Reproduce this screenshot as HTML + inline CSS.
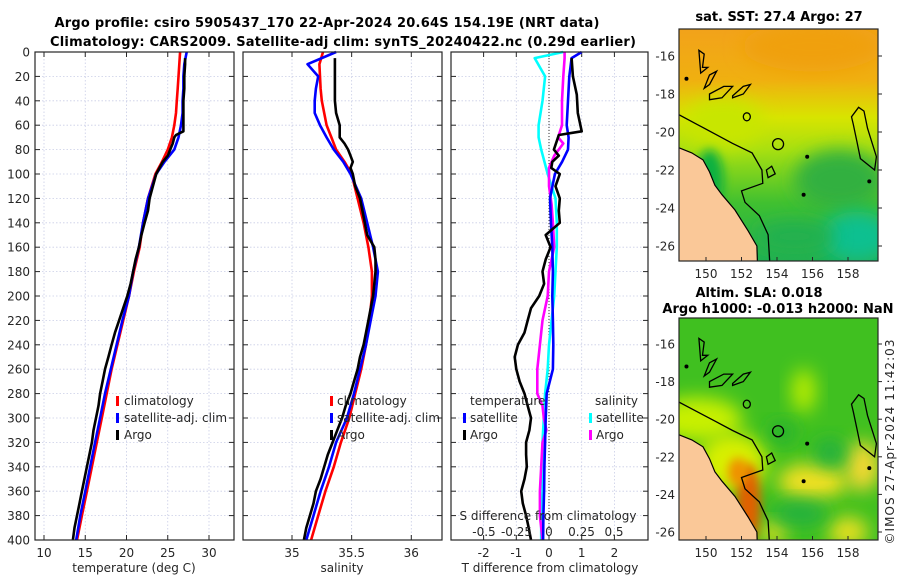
<!DOCTYPE html>
<html><head><meta charset="utf-8"><title>Argo profile</title>
<style>
html,body{margin:0;padding:0;background:#fff;}
svg{display:block;font-family:"DejaVu Sans","Liberation Sans",sans-serif;}
.t{font-size:12px;fill:#262626;}
.b{font-weight:bold;font-size:13px;fill:#000;}
</style></head>
<body>
<svg id="fig" width="900" height="580" viewBox="0 0 900 580" xmlns="http://www.w3.org/2000/svg">
<defs>
<filter id="bl" x="-50%" y="-50%" width="200%" height="200%"><feGaussianBlur stdDeviation="9"/></filter>
<filter id="bl2" x="-50%" y="-50%" width="200%" height="200%"><feGaussianBlur stdDeviation="5"/></filter>
<linearGradient id="sstg" x1="0" y1="0" x2="0" y2="1">
<stop offset="0" stop-color="#f2a21a"/><stop offset="0.22" stop-color="#f0b010"/><stop offset="0.38" stop-color="#d8e400"/><stop offset="0.52" stop-color="#a8e010"/><stop offset="0.75" stop-color="#40c030"/><stop offset="1" stop-color="#20b050"/>
</linearGradient>
<clipPath id="cm1"><rect x="679" y="29" width="199" height="232"/></clipPath>
<clipPath id="cm2"><rect x="679" y="318" width="199" height="222"/></clipPath>
</defs>
<text class="b" x="327" y="27" text-anchor="middle" textLength="545">Argo profile: csiro 5905437_170 22-Apr-2024 20.64S 154.19E (NRT data)</text>
<text class="b" x="343" y="46" text-anchor="middle" textLength="586">Climatology: CARS2009. Satellite-adj clim: synTS_20240422.nc (0.29d earlier)</text>
<g id="panels"></g>
<g id="maps"></g>
<text class="t" transform="translate(894,442) rotate(-90)" text-anchor="middle" textLength="205">©IMOS 27-Apr-2024 11:42:03</text>
</svg>
<script>
// ---- data ----
const depthGrid = [0,10,20,30,40,50,60,70,80,90,100,120,140,160,180,200,220,240,260,280,300,320,340,360,380,400];
const tempClim = [26.5,26.4,26.3,26.2,26.1,26.0,25.8,25.5,25.0,24.3,23.5,22.6,22.0,21.6,20.9,20.3,19.6,18.9,18.2,17.6,17.0,16.4,15.8,15.2,14.6,14.0];
const tempSat  = [27.3,27.0,26.9,26.9,26.8,26.8,26.6,26.3,25.8,24.6,23.6,22.6,22.0,21.5,20.8,20.3,19.5,18.8,18.1,17.4,16.8,16.2,15.6,15.0,14.4,13.9];
const argoDepth = [5,10,20,30,40,50,60,65,68,70,75,80,85,90,95,100,110,120,130,140,150,160,170,180,190,200,210,220,230,240,250,260,270,280,290,300,310,320,330,340,350,360,370,380,390,400];
const tempArgo = [27.1,27.1,27.0,27.0,26.9,26.9,26.9,26.9,26.0,25.8,25.6,25.3,25.0,24.4,24.0,23.6,23.2,22.8,22.6,22.2,21.8,21.5,21.1,20.8,20.5,20.1,19.6,19.1,18.6,18.2,17.8,17.4,17.1,16.8,16.6,16.3,16.0,15.8,15.5,15.2,14.9,14.6,14.3,14.0,13.7,13.5];
const salClim = [35.26,35.23,35.235,35.24,35.25,35.27,35.29,35.33,35.37,35.44,35.50,35.55,35.60,35.64,35.67,35.67,35.65,35.62,35.58,35.53,35.48,35.41,35.35,35.28,35.22,35.16];
const salSat  = [35.37,35.13,35.22,35.20,35.19,35.19,35.235,35.29,35.35,35.43,35.49,35.58,35.63,35.68,35.72,35.70,35.66,35.62,35.57,35.52,35.46,35.37,35.31,35.24,35.18,35.12];
const salArgo = [35.36,35.36,35.36,35.36,35.36,35.37,35.40,35.40,35.40,35.40,35.44,35.47,35.49,35.51,35.49,35.51,35.53,35.57,35.59,35.61,35.63,35.69,35.70,35.70,35.69,35.68,35.66,35.64,35.62,35.60,35.57,35.55,35.52,35.49,35.45,35.42,35.38,35.34,35.30,35.27,35.24,35.20,35.18,35.15,35.12,35.10];
const dTDepth = [0,5,20,40,60,70,80,90,100,120,140,160,180,200,220,240,260,280,300,320,340,360,380,400];
const dTSat = [1.0,0.69,0.62,0.58,0.54,0.6,0.58,0.4,0.18,0.03,0.06,0.1,0.12,0.1,0.12,0.13,0.12,-0.07,-0.1,-0.12,-0.14,-0.15,-0.17,-0.18];
const dTArgoDepth = [5,20,35,50,65,68,72,80,85,90,95,100,110,120,130,140,150,160,170,180,190,200,210,220,230,240,250,260,270,280,290,300,310,320,330,340,350,360,370,380,390,400];
const dTArgo = [0.69,0.73,0.85,0.88,1.0,0.3,0.25,0.15,0.3,0.1,0.07,0.33,0.2,0.33,0.3,0.33,-0.1,0.05,-0.1,-0.2,-0.15,-0.3,-0.55,-0.65,-0.75,-0.95,-1.05,-1.0,-0.9,-0.75,-0.65,-0.55,-0.6,-0.7,-0.7,-0.68,-0.75,-0.85,-0.8,-0.7,-0.62,-0.55];
const dSDepth = [0,5,20,40,60,70,80,100,120,140,160,180,200,220,240,260,280,300,320,340,360,380,400];
const dSSat = [0.11,-0.11,-0.03,-0.05,-0.08,-0.08,-0.06,-0.01,0.05,0.06,0.06,0.05,0.04,0.02,0.0,-0.01,-0.03,-0.04,-0.05,-0.05,-0.05,-0.06,-0.06];
const dSArgoDepth = [0,5,20,40,60,70,75,85,95,110,125,140,160,180,200,220,240,260,280,290,300,310,320,340,360,380,400];
const dSArgo = [0.12,0.12,0.11,0.1,0.1,0.07,0.11,0.04,0.0,0.0,0.02,0.03,0.04,0.0,-0.01,-0.05,-0.07,-0.09,-0.09,-0.05,-0.04,-0.02,-0.05,-0.06,-0.07,-0.07,-0.05];
const depthTicks = [0,20,40,60,80,100,120,140,160,180,200,220,240,260,280,300,320,340,360,380,400];
const tempTicks = [10,15,20,25,30];
const salTicks = [35,35.5,36];
const dTTicks = [-2,-1,0,1,2];
const dSTicks = [-0.5,-0.25,0,0.25,0.5];
const dSTickLabels = ["-0.5","-0.25","0","0.25","0.5"];

const NS='http://www.w3.org/2000/svg';
const panels=document.getElementById('panels');
const Y0=52, Y1=540;
function yD(d){return Y0+(d/400)*(Y1-Y0);}
function mk(tag,attrs,parent){const e=document.createElementNS(NS,tag);for(const k in attrs)e.setAttribute(k,attrs[k]);(parent||panels).appendChild(e);return e;}

function frame(x0,x1,xs,xticks,xlabels,showY,name){
  const g=mk('g',{});
  
  
  depthTicks.forEach(d=>{
    const l=mk('line',{x1:x0,x2:x1,y1:yD(d),y2:yD(d),stroke:'#c9cde6','stroke-width':0.8,'stroke-dasharray':'1.5,2'},g);
    
    
    mk('line',{x1:x0,x2:x0+5,y1:yD(d),y2:yD(d),stroke:'#262626','stroke-width':1},g);
    mk('line',{x1:x1-5,x2:x1,y1:yD(d),y2:yD(d),stroke:'#262626','stroke-width':1},g);
    if(showY){
      const t=mk('text',{x:x0-5,y:yD(d)+4.5,'text-anchor':'end','class':'t'},g);
      t.textContent=d;
      
      
    }
  });
  xticks.forEach((v,i)=>{
    const x=xs(v);
    const l=mk('line',{x1:x,x2:x,y1:Y0,y2:Y1,stroke:'#c9cde6','stroke-width':0.8,'stroke-dasharray':'1.5,2'},g);
    
    
    mk('line',{x1:x,x2:x,y1:Y1-5,y2:Y1,stroke:'#262626','stroke-width':1},g);
    mk('line',{x1:x,x2:x,y1:Y0,y2:Y0+5,stroke:'#262626','stroke-width':1},g);
    const t=mk('text',{x:x,y:557,'text-anchor':'middle','class':'t'},g);
    t.textContent=xlabels?xlabels[i]:v;
    
    
  });
  return g;
}
function series(xs,vals,depths,color,name,w){
  let d='';
  vals.forEach((v,i)=>{d+=(i?'L':'M')+xs(v).toFixed(1)+','+yD(depths[i]).toFixed(1);});
  const p=mk('path',{d:d,fill:'none',stroke:color,'stroke-width':w||2.6,'stroke-linejoin':'round'});
  
  
  return p;
}
function box(x0,x1,name){
  const r=mk('rect',{x:x0,y:Y0,width:x1-x0,height:Y1-Y0,fill:'none',stroke:'#262626','stroke-width':1.2});
  
  
}
function label(x,y,txt,name,anchor,size){
  const t=mk('text',{x:x,y:y,'text-anchor':anchor||'start','class':'t'});
  if(size)t.setAttribute('style','font-size:'+size+'px');
  t.textContent=txt;
  
  
  return t;
}
function legendMark(x,y,color){
  const r=mk('rect',{x:x,y:y-10,width:3,height:10,fill:color});
  
  
}

// Panel 1 temperature
const xT=v=>44+(v-10)*8.25;
frame(35,234,xT,tempTicks,null,true,'temperature-axes');
series(xT,tempClim,depthGrid,'#ff0000','temperature-climatology-line');
series(xT,tempSat,depthGrid,'#0000ff','temperature-satellite-line');
series(xT,tempArgo,argoDepth,'#000000','temperature-argo-line');
box(35,234,'temperature-plot-frame');
label(134,572,'temperature (deg C)','temperature-axis-title','middle');
legendMark(116,406,'#ff0000');label(124,405,'climatology','legend-entry-climatology');
legendMark(116,423,'#0000ff');label(124,422,'satellite-adj. clim','legend-entry-satellite');
legendMark(116,440,'#000000');label(124,439,'Argo','legend-entry-argo');

// Panel 2 salinity
const xS=v=>292+(v-35)*119.3;
frame(243,442,xS,salTicks,null,false,'salinity-axes');
series(xS,salClim,depthGrid,'#ff0000','salinity-climatology-line');
series(xS,salSat,depthGrid,'#0000ff','salinity-satellite-line');
series(xS,salArgo,argoDepth,'#000000','salinity-argo-line');
box(243,442,'salinity-plot-frame');
label(342,572,'salinity','salinity-axis-title','middle');
legendMark(330,406,'#ff0000');label(337,405,'climatology','legend-entry-climatology');
legendMark(330,423,'#0000ff');label(337,422,'satellite-adj. clim','legend-entry-satellite');
legendMark(330,440,'#000000');label(337,439,'Argo','legend-entry-argo');

// Panel 3 differences
const xdT=v=>549+v*32.7;
const xdS=v=>549+v*130;
frame(451,648,xdT,dTTicks,null,false,'difference-axes');
const zl=mk('line',{x1:549,x2:549,y1:Y0,y2:Y1,stroke:'#333','stroke-width':1,'stroke-dasharray':'1,2'});


series(xdS,dSSat,dSDepth,'#00ffff','salinity-diff-satellite-line');
series(xdS,dSArgo,dSArgoDepth,'#ff00ff','salinity-diff-argo-line');
series(xdT,dTSat,dTDepth,'#0000ff','temperature-diff-satellite-line');
series(xdT,dTArgo,dTArgoDepth,'#000000','temperature-diff-argo-line');
box(451,648,'difference-plot-frame');
label(550,572,'T difference from climatology','t-difference-axis-title','middle');
label(548,520,'S difference from climatology','s-difference-axis-title','middle');
dSTicks.forEach((v,i)=>{const t=label(xdS(v),536,dSTickLabels[i],'s-diff-tick-label','middle');});
label(470,405,'temperature','legend-title-temperature');
legendMark(463,423,'#0000ff');label(470,422,'satellite','legend-entry-t-satellite');
legendMark(463,440,'#000000');label(470,439,'Argo','legend-entry-t-argo');
label(595,405,'salinity','legend-title-salinity');
legendMark(589,423,'#00ffff');label(596,422,'satellite','legend-entry-s-satellite');
legendMark(589,440,'#ff00ff');label(596,439,'Argo','legend-entry-s-argo');

// ---- maps ----
const maps=document.getElementById('maps');
const lonTicks=[150,152,154,156,158];
const latTicks=[-16,-18,-20,-22,-24,-26];
const lonX=l=>706+(l-150)*17.75;
function drawMap(top,bottom,lat16y,dpy,kind){
  const latY=l=>lat16y+(-16-l)*dpy;
  const g=mk('g',{'clip-path':'url(#cm'+kind+')'},maps);
  
  
  const P=pts=>pts.map((p,i)=>(i?'L':'M')+lonX(p[0]).toFixed(1)+','+latY(p[1]).toFixed(1)).join('')+'Z';
  const blob=(cx,cy,rx,ry,col,f)=>mk('ellipse',{cx:lonX(cx),cy:latY(cy),rx:rx,ry:ry,fill:col,filter:'url(#'+(f||'bl')+')'},g);
  if(kind==1){
    mk('rect',{x:679,y:top,width:199,height:bottom-top,fill:'url(#sstg)'},g);
    blob(156,-15.5,70,25,'#f0a010');
    blob(151,-19.5,40,25,'#c8e600');
    blob(157.5,-22.5,45,30,'#30b040');
    blob(158.5,-25.5,35,25,'#10c090');
    blob(155,-25.5,40,15,'#20b050');
    blob(150.2,-22.5,14,30,'#10b040','bl2');
  } else {
    mk('rect',{x:679,y:top,width:199,height:bottom-top,fill:'#40c020'},g);
    blob(149.5,-20,45,22,'#c8f000');
    blob(151.5,-22.3,35,30,'#d8f000');
    blob(155.5,-18.5,12,22,'#b8ec00');
    blob(156,-23.3,35,18,'#f0e020');
    blob(158.8,-22.5,18,25,'#f0d830');
    blob(158,-26,20,15,'#e8e020');
    blob(153.8,-26,14,10,'#f0e020');
    blob(154.3,-20.7,14,10,'#20b030');
    blob(157,-21.8,16,14,'#20b040');
    blob(155.3,-25,28,12,'#20b040');
    blob(152.4,-24.5,12,40,'#e06000','bl2');
    blob(151.8,-22.8,10,14,'#f09000','bl2');
  }
  const land=mk('path',{d:P([[148.3,-20.8],[148.5,-20.84],[149.2,-21.1],[149.83,-21.47],[150.2,-22.1],[150.5,-22.8],[150.9,-23.3],[151.63,-24.1],[152.37,-25.2],[152.87,-26.0],[152.9,-27],[148.3,-27]]),fill:'#fac898',stroke:'#000','stroke-width':1.2},g);
  
  
  const shelf=mk('path',{d:'M'+[[148.3,-19.0],[149.5,-19.6],[150.5,-20.1],[151.5,-20.6],[152.6,-21.1],[153.15,-22.0],[153.2,-22.7],[152.0,-23.1],[152.2,-23.7],[153.0,-24.4],[153.5,-25.4],[153.6,-27]].map(p=>lonX(p[0]).toFixed(1)+','+latY(p[1]).toFixed(1)).join('L'),fill:'none',stroke:'#000','stroke-width':1.3},g);
  
  
  const reef=mk('path',{d:P([[158.6,-18.7],[158.9,-18.9],[159.1,-19.8],[159.6,-21.3],[159.5,-22.0],[158.7,-21.4],[158.5,-20.5],[158.3,-19.6],[158.2,-19.2]]),fill:'none',stroke:'#000','stroke-width':1.3},g);
  
  
  [[[149.6,-15.7],[149.9,-15.9],[149.8,-16.6],[150.1,-16.6],[149.7,-16.9]],
   [[150.2,-17.0],[150.6,-16.8],[150.2,-17.5],[149.9,-17.7]],
   [[150.2,-18.0],[151.0,-17.6],[151.5,-17.6],[150.9,-18.2],[150.2,-18.3]],
   [[151.5,-18.1],[152.1,-17.6],[152.5,-17.5],[152.1,-18.0],[151.5,-18.2]],
   [[153.4,-22.0],[153.7,-21.8],[153.9,-22.2],[153.5,-22.4]]].forEach(pl=>{
    const r=mk('path',{d:P(pl),fill:'none',stroke:'#000','stroke-width':1.3},g);
    
    
  });
  const c1=mk('ellipse',{cx:lonX(152.3),cy:latY(-19.2),rx:3.5,ry:4,fill:'none',stroke:'#000','stroke-width':1.3},g);
  
  
  [[155.7,-21.3],[155.5,-23.3],[159.2,-22.6],[148.9,-17.2]].forEach(p=>{
    const d=mk('circle',{cx:lonX(p[0]),cy:latY(p[1]),r:2,fill:'#000'},g);
    
    
  });
  const argo=mk('circle',{cx:lonX(154.06),cy:latY(-20.64),r:5.5,fill:'none',stroke:'#000','stroke-width':1.3},g);
  
  
  const fr=mk('rect',{x:679,y:top,width:199,height:bottom-top,fill:'none',stroke:'#262626','stroke-width':1.2},maps);
  
  
  lonTicks.forEach(l=>{
    mk('line',{x1:lonX(l),x2:lonX(l),y1:bottom-4,y2:bottom,stroke:'#262626'},maps);
    const t=mk('text',{x:lonX(l),y:bottom+17,'text-anchor':'middle','class':'t'},maps);
    t.textContent=l;
    
    
  });
  latTicks.forEach(l=>{
    mk('line',{x1:878,x2:882,y1:latY(l),y2:latY(l),stroke:'#262626'},maps);
    const t=mk('text',{x:675,y:latY(l)+4.5,'text-anchor':'end','class':'t'},maps);
    t.textContent=l;
    
    
  });
}
drawMap(29,261,56,19,1);
drawMap(318,540,344,18.8,2);
function mtitle(x,y,txt,name){const t=mk('text',{x:x,y:y,'text-anchor':'middle','class':'b'},maps);t.textContent=txt;}
mtitle(779,21,'sat. SST: 27.4 Argo: 27','sst-map-title');
mtitle(759,297,'Altim. SLA: 0.018','sla-map-title-line-1');
mtitle(778,313,'Argo h1000: -0.013 h2000: NaN','sla-map-title-line-2');
</script>
</body></html>
